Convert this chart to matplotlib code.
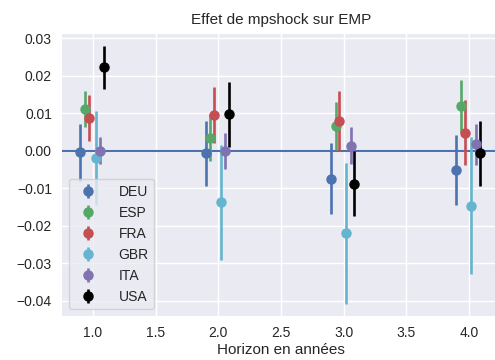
import matplotlib
matplotlib.use("Agg")
import matplotlib.pyplot as plt
import numpy as np

horizons = [1, 2, 3, 4]
countries = ["DEU", "ESP", "FRA", "GBR", "ITA", "USA"]
colors = ["#4C72B0", "#55A868", "#C44E52", "#64B5CD", "#8172B2", "black"]
offsets = [-0.10, -0.065, -0.035, 0.02, 0.055, 0.085]

coef_DEU = [-0.0005, -0.0007, -0.0075, -0.0052]
coef_ESP = [0.0111, 0.0034, 0.0065, 0.0118]
coef_FRA = [0.0087, 0.0094, 0.0079, 0.0048]
coef_GBR = [-0.0020, -0.0138, -0.0220, -0.0147]
coef_ITA = [0.0000, -0.0001, 0.0013, 0.0017]
coef_USA = [0.0222, 0.0097, -0.0088, -0.0007]

err_DEU = [0.0077, 0.0087, 0.0095, 0.0094]
err_ESP = [0.0047, 0.0063, 0.0064, 0.0069]
err_FRA = [0.0062, 0.0075, 0.0080, 0.0086]
err_GBR = [0.0126, 0.0153, 0.0188, 0.0182]
err_ITA = [0.0036, 0.0047, 0.0049, 0.0055]
err_USA = [0.0058, 0.0087, 0.0086, 0.0087]

coefs = [coef_DEU, coef_ESP, coef_FRA, coef_GBR, coef_ITA, coef_USA]
errs = [err_DEU, err_ESP, err_FRA, err_GBR, err_ITA, err_USA]

plt.rcParams.update({
    "font.family": ["Liberation Sans", "DejaVu Sans"],
    "axes.facecolor": "#EAEAF2",
    "axes.edgecolor": "white",
    "axes.grid": True,
    "grid.color": "white",
    "grid.linewidth": 1.0,
    "axes.axisbelow": True,
    "xtick.labelsize": 10,
    "ytick.labelsize": 10,
    "xtick.color": "#262626",
    "ytick.color": "#262626",
    "axes.labelcolor": "#262626",
    "text.color": "#262626",
    "xtick.major.size": 0,
    "ytick.major.size": 0,
})

fig = plt.figure(figsize=(4.95, 3.6), dpi=100)
ax = fig.add_axes([0.1246, 0.1222, 0.8861, 0.7834])
for s in ax.spines.values():
    s.set_visible(False)

ax.axhline(0, color="#4C72B0", lw=1.5)

for name, c, off, y, e in zip(countries, colors, offsets, coefs, errs):
    x = np.array(horizons) + off
    ax.errorbar(x, y, yerr=e, fmt="o", color=c, ms=6.5, elinewidth=1.9,
                capsize=0, label=name)

ax.set_xlim(0.75, 4.25)
ax.set_ylim(-0.0441, 0.0311)
ax.set_xticks([1.0, 1.5, 2.0, 2.5, 3.0, 3.5, 4.0])
ax.set_yticks([-0.04, -0.03, -0.02, -0.01, 0.0, 0.01, 0.02, 0.03])
ax.set_yticklabels(["\u22120.04", "\u22120.03", "\u22120.02", "\u22120.01",
                    "0.00", "0.01", "0.02", "0.03"])
ax.set_xlabel("Horizon en années", fontsize=11, labelpad=2)
ax.set_title("Effet de mpshock sur EMP", fontsize=11, pad=7)
ax.tick_params(axis="both", pad=7)

leg = ax.legend(loc="lower left", fontsize=10, frameon=True,
                facecolor="#EAEAF2", edgecolor="#CCCCCC", framealpha=0.8,
                handletextpad=1.2)

fig.savefig("out.png", dpi=100)
